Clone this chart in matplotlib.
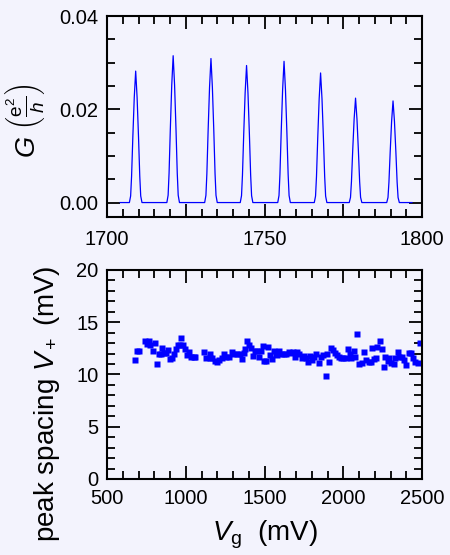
import matplotlib
matplotlib.use("Agg")
import matplotlib.pyplot as plt
from matplotlib.ticker import MultipleLocator, FixedLocator, FixedFormatter

# --- data ---------------------------------------------------------------
# top panel: Coulomb peaks (centre in mV, height in e^2/h)
peak_centres = [1709.1, 1721.0, 1733.0, 1744.3, 1756.2, 1767.8, 1778.9, 1790.8]
peak_heights = [0.0282, 0.0315, 0.0309, 0.0294, 0.0303, 0.0278, 0.0224, 0.0218]
# measured peak profile: offset from centre (mV) vs fraction of peak height
profile_offset = [-2.0, -1.6, -1.3, -0.9, -0.45, 0.0, 0.45, 0.9, 1.3, 1.6, 2.0]
profile_frac = [0.0, 0.05, 0.2, 0.5, 0.8, 1.0, 0.8, 0.5, 0.2, 0.05, 0.0]
trace_start, trace_end = 1704.2, 1796.8

# bottom panel: peak spacing vs gate voltage
vg = [680, 690, 705, 739, 754, 765, 775, 790, 803, 815, 828, 843, 851, 860,
      872, 887, 898, 910, 923, 936, 949, 966, 972, 983, 997, 1008, 1021,
      1033, 1050, 1061, 1118, 1131, 1152, 1152, 1167, 1184, 1198, 1213,
      1230, 1245, 1258, 1277, 1294, 1308, 1325, 1342, 1355, 1368, 1378,
      1389, 1402, 1414, 1427, 1437, 1452, 1463, 1476, 1488, 1499, 1509,
      1522, 1537, 1545, 1558, 1571, 1581, 1594, 1607, 1622, 1636, 1653,
      1666, 1681, 1691, 1704, 1717, 1736, 1748, 1761, 1774, 1787, 1799,
      1812, 1829, 1844, 1856, 1871, 1888, 1899, 1911, 1920, 1933, 1946,
      1960, 1973, 1986, 2000, 2015, 2028, 2041, 2051, 2066, 2077, 2089,
      2102, 2117, 2134, 2146, 2161, 2176, 2183, 2193, 2206, 2216, 2231,
      2246, 2256, 2267, 2282, 2292, 2305, 2320, 2330, 2345, 2355, 2372,
      2385, 2400, 2415, 2427, 2440, 2457, 2472, 2485]
spacing = [11.42, 12.25, 12.25, 13.24, 12.89, 13.24, 12.82, 12.25, 13.05,
           11.0, 11.96, 11.96, 12.5, 12.03, 12.09, 12.34, 11.48, 11.61,
           11.96, 12.41, 12.82, 12.82, 13.52, 12.82, 12.41, 11.83, 12.12,
           11.71, 11.64, 11.71, 12.12, 11.55, 11.96, 11.55, 11.55, 11.32,
           11.2, 11.39, 11.55, 11.96, 11.71, 11.71, 12.12, 11.96, 11.96,
           11.96, 11.45, 12.06, 12.41, 13.24, 12.82, 12.57, 11.77, 12.25,
           12.25, 11.71, 12.25, 12.7, 11.32, 11.32, 12.6, 11.83, 11.45,
           12.25, 11.96, 11.83, 12.25, 11.96, 11.96, 11.96, 12.19, 12.03,
           12.19, 11.71, 12.12, 11.96, 11.55, 11.77, 11.55, 11.23, 11.77,
           11.39, 11.71, 11.93, 11.07, 11.71, 11.9, 9.89, 11.93, 11.2,
           12.57, 12.34, 12.03, 11.83, 11.64, 11.55, 11.55, 11.55, 12.41,
           11.96, 11.55, 12.25, 11.71, 13.84, 11.0, 11.13, 12.12, 11.39,
           11.23, 11.2, 12.5, 11.45, 11.55, 12.6, 13.24, 12.41, 10.69,
           11.64, 11.32, 11.55, 11.13, 11.0, 11.55, 12.12, 11.71, 11.64,
           11.39, 10.91, 12.03, 12.03, 11.55, 11.23, 11.07, 12.98]

# --- style ---------------------------------------------------------------
plt.rcParams["font.family"] = ["Liberation Sans", "DejaVu Sans"]
plt.rcParams["mathtext.fontset"] = "custom"
plt.rcParams["mathtext.rm"] = "Liberation Sans"
plt.rcParams["mathtext.it"] = "Liberation Sans:italic"
plt.rcParams["mathtext.bf"] = "Liberation Sans:bold"

bg = "#f3f3fd"
fig = plt.figure(figsize=(4.5, 5.55), dpi=100, facecolor=bg)
ax1 = fig.add_axes([0.2378, 0.609, 0.700, 0.362])
ax2 = fig.add_axes([0.2378, 0.137, 0.700, 0.3766])

# build the G trace from the peak list
gx = [trace_start]
gy = [0.0]
for c, h in zip(peak_centres, peak_heights):
    gx += [c + o for o in profile_offset]
    gy += [h * f for f in profile_frac]
gx.append(trace_end)
gy.append(0.0)
ax1.plot(gx, gy, color="#0000ff", lw=0.9)

ax1.set_xlim(1700, 1800)
ax1.set_ylim(-0.0031, 0.04)
ax1.xaxis.set_major_locator(FixedLocator([1700, 1725, 1750, 1775, 1800]))
ax1.xaxis.set_major_formatter(FixedFormatter(["1700", "", "1750", "", "1800"]))
ax1.xaxis.set_minor_locator(MultipleLocator(5))
ax1.yaxis.set_major_locator(FixedLocator([0.0, 0.02, 0.04]))
ax1.yaxis.set_major_formatter(FixedFormatter(["0.00", "0.02", "0.04"]))
ax1.yaxis.set_minor_locator(MultipleLocator(0.005))
ax1.set_ylabel(r"$G\ \left(\frac{\mathrm{e}^2}{h}\right)$", fontsize=19.5)
ax1.yaxis.set_label_coords(-0.19, 0.48)

ax2.plot(vg, spacing, ls="none", marker="s", ms=4.2, mec="none", color="#0000ff")
ax2.set_xlim(500, 2500)
ax2.set_ylim(0, 20)
ax2.xaxis.set_major_locator(MultipleLocator(500))
ax2.xaxis.set_minor_locator(MultipleLocator(100))
ax2.yaxis.set_major_locator(MultipleLocator(5))
ax2.yaxis.set_minor_locator(MultipleLocator(1))
ax2.set_xlabel(r"$V_\mathrm{g}$  (mV)", fontsize=20, labelpad=8)
ax2.set_ylabel(r"peak spacing $V_+$ (mV)", fontsize=20)
ax2.yaxis.set_label_coords(-0.143, 0.36)

for ax in (ax1, ax2):
    ax.set_facecolor(bg)
    for s in ax.spines.values():
        s.set_linewidth(1.5)
    ax.tick_params(which="both", direction="in", top=True, right=True,
                   width=1.3, labelsize=14.5, color="black")
    ax.tick_params(which="major", length=9.5)
    ax.tick_params(which="minor", length=5.5)
    ax.tick_params(axis="y", pad=6)

ax1.tick_params(axis="x", pad=9)
ax2.tick_params(axis="x", pad=7)

fig.savefig("out.png", dpi=100, facecolor=bg)
